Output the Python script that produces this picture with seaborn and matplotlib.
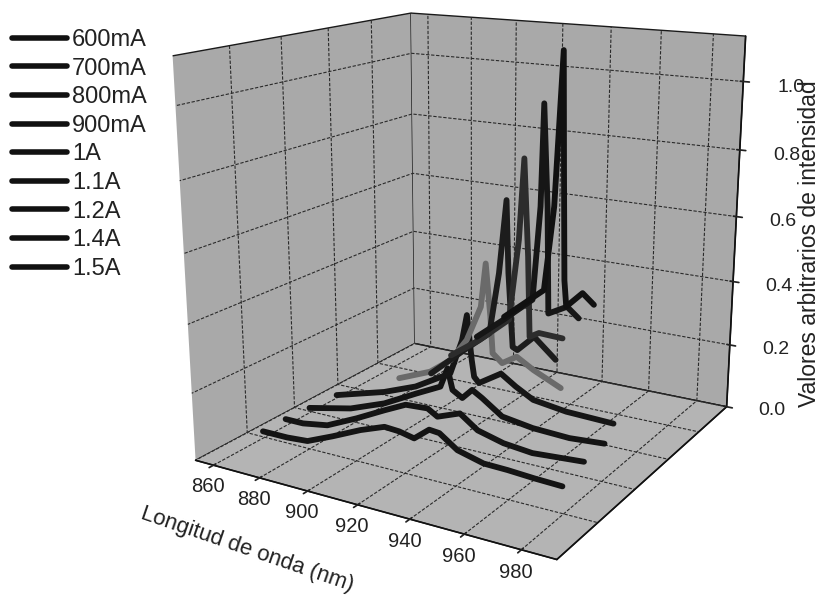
import matplotlib
matplotlib.use("Agg")
import matplotlib.pyplot as plt
import seaborn as sns

labels = ["600mA", "700mA", "800mA", "900mA", "1A", "1.1A", "1.2A", "1.4A", "1.5A"]
depths = [0.22, 0.315, 0.41, 0.505, 0.60, 0.695, 0.79, 0.885, 0.98]

wl_600 = [857, 868, 877, 888, 900, 910, 916, 922, 928, 932, 939, 949, 958, 968, 978]
int_600 = [0.005, 0.005, 0.01, 0.044, 0.084, 0.111, 0.108, 0.098, 0.134, 0.131, 0.094, 0.074, 0.072, 0.067, 0.064]
wl_700 = [857, 865, 876, 889, 901, 910, 919, 923, 932, 939, 949, 960, 979]
int_700 = [0.005, 0.005, 0.018, 0.062, 0.107, 0.139, 0.143, 0.125, 0.150, 0.112, 0.092, 0.083, 0.093]
wl_800 = [858, 877, 892, 906, 916, 919, 921, 925, 929, 933, 941, 953, 967, 980]
int_800 = [0.005, 0.035, 0.076, 0.130, 0.167, 0.227, 0.165, 0.147, 0.178, 0.160, 0.118, 0.104, 0.099, 0.106]
wl_900 = [861, 883, 897, 912, 917, 919, 921, 922, 924, 933, 939, 946, 959, 977]
int_900 = [0.015, 0.061, 0.101, 0.166, 0.276, 0.355, 0.221, 0.171, 0.155, 0.198, 0.168, 0.139, 0.125, 0.120]
wl_1a = [881, 895, 904, 911, 917, 919, 921, 922, 926, 932, 939, 950]
int_1a = [0.067, 0.110, 0.161, 0.235, 0.347, 0.482, 0.322, 0.210, 0.185, 0.214, 0.183, 0.145]
wl_11a = [887, 902, 913, 917, 920, 921, 923, 925, 932, 941]
int_11a = [0.057, 0.157, 0.227, 0.422, 0.650, 0.427, 0.198, 0.191, 0.243, 0.184]
wl_12a = [888, 901, 914, 918, 920, 922, 923, 927, 937]
int_12a = [0.085, 0.156, 0.241, 0.501, 0.755, 0.453, 0.198, 0.216, 0.213]
wl_14a = [892, 904, 917, 920, 921, 923, 924, 932, 937]
int_14a = [0.121, 0.195, 0.280, 0.584, 0.905, 0.586, 0.244, 0.277, 0.246]
wl_15a = [897, 915, 919, 922, 923, 924, 925, 932, 937]
int_15a = [0.165, 0.280, 0.560, 1.053, 0.670, 0.324, 0.238, 0.292, 0.260]

wavelengths = [wl_600, wl_700, wl_800, wl_900, wl_1a, wl_11a, wl_12a, wl_14a, wl_15a]
intensities = [int_600, int_700, int_800, int_900, int_1a, int_11a, int_12a, int_14a, int_15a]
wl_ticks = [860, 880, 900, 920, 940, 960, 980]
int_ticks = [0.0, 0.2, 0.4, 0.6, 0.8, 1.0]
int_tick_labels = ["0.0", "0.2", "0.4", "0.6", "0.8", "1.0"]
depth_ticks = [0.2, 0.4, 0.6, 0.8]

sns.set_theme(style="white", font="Liberation Sans")
plt.rcParams["grid.color"] = "#2a2a2a"
plt.rcParams["grid.linestyle"] = (0, (3, 1.5))
plt.rcParams["grid.linewidth"] = 0.8
plt.rcParams["axes.linewidth"] = 1.2

palette = sns.color_palette(["#141414", "#141414", "#141414", "#161616", "#6a6a6a",
                             "#1c1c1c", "#2c2c2c", "#161616", "#111111"])

fig = plt.figure(figsize=(8.25, 5.97), dpi=100)
ax = fig.add_axes([52.6 / 825, 44.24 / 597, 1, 1], projection="3d")
ax.view_init(elev=15.67, azim=-59.44)
ax.set_proj_type("persp", focal_length=0.444)
ax.set_box_aspect((1.0027, 0.9983, 1.0), zoom=1.1303)
ax.patch.set_alpha(0)

for wl, inten, depth, color, label in zip(wavelengths, intensities, depths, palette, labels):
    ax.plot(wl, [depth] * len(wl), inten, color=color, lw=4.2, label=label,
            solid_capstyle="round", solid_joinstyle="round")

ax.set_xlim(852, 992)
ax.set_ylim(0, 1)
ax.set_zlim(0, 1.13)
ax.set_xticks(wl_ticks)
ax.set_yticks(depth_ticks)
ax.set_zticks(int_ticks)
ax.set_yticklabels([])
ax.set_zticklabels(int_tick_labels)
ax.tick_params(axis="x", labelsize=14.5, pad=-3, colors="#222222")
ax.tick_params(axis="z", labelsize=14, pad=13, colors="#222222")
ax.tick_params(axis="y", color="none")

ax.xaxis.set_pane_color("#a9a9a9")
ax.yaxis.set_pane_color("#a9a9a9")
ax.zaxis.set_pane_color("#b4b4b4")
for axis in (ax.xaxis, ax.yaxis, ax.zaxis):
    axis.pane.set_edgecolor("#1a1a1a")
    axis.pane.set_linewidth(1.0)
    axis.line.set_color("#111111")

fig.legend(handles=[plt.Line2D([], [], color="#111111", lw=4, solid_capstyle="round") for _ in labels],
           labels=labels, loc="upper left", bbox_to_anchor=(12 / 825, 1 - 29 / 597),
           frameon=False, fontsize=17, handlelength=2.35, handletextpad=0.2,
           labelspacing=0.28, borderpad=0, borderaxespad=0, labelcolor="#222222")

fig.text(247 / 825, 1 - 549 / 597, "Longitud de onda (nm)", fontsize=16, rotation=-19,
         ha="center", va="center", color="#222222", rotation_mode="anchor")
fig.text(809 / 825, 1 - 244 / 597, "Valores arbitrarios de intensidad", fontsize=16.5, rotation=90,
         ha="center", va="center", color="#222222")

fig.savefig("out.png", dpi=100)
